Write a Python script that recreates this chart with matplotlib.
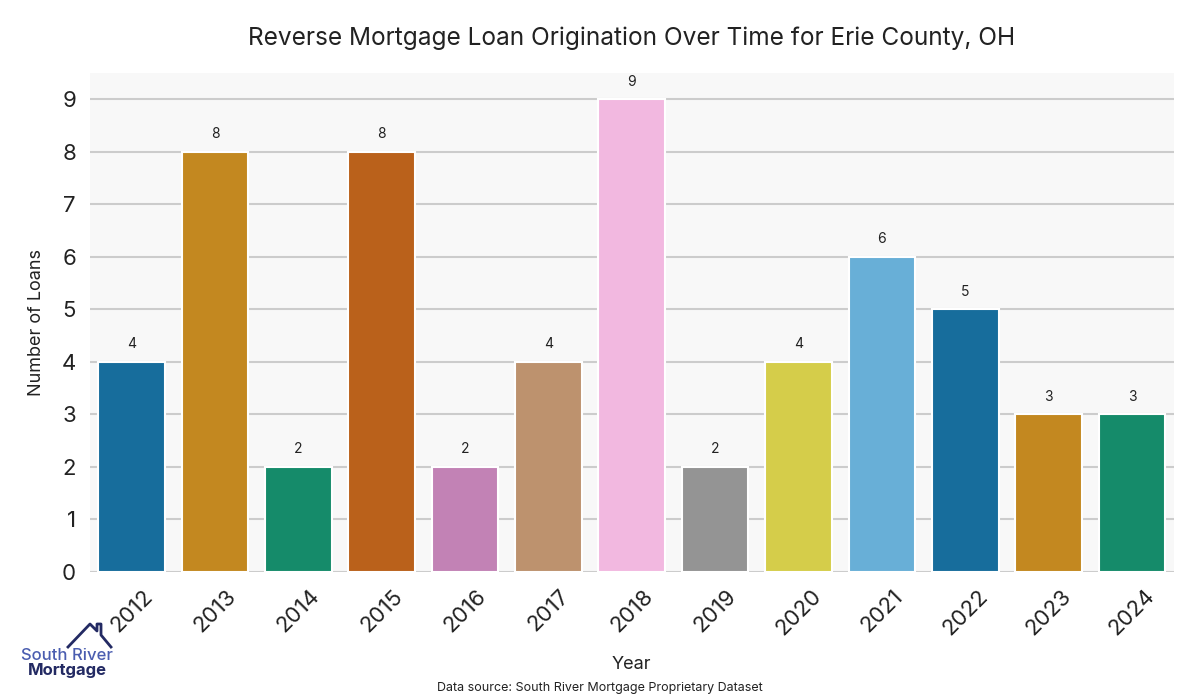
import matplotlib
matplotlib.use("Agg")
import matplotlib.pyplot as plt
import matplotlib.colors as mcolors
import colorsys
from matplotlib.lines import Line2D

years = ["2012", "2013", "2014", "2015", "2016", "2017", "2018",
         "2019", "2020", "2021", "2022", "2023", "2024"]
loans = [4, 8, 2, 8, 2, 4, 9, 2, 4, 6, 5, 3, 3]

palette = ["#0173b2", "#de8f05", "#029e73", "#d55e00", "#cc78bc", "#ca9161",
           "#fbafe4", "#949494", "#ece133", "#56b4e9"]


def desat(c, prop=0.75):
    r, g, b = mcolors.to_rgb(c)
    h, l, s = colorsys.rgb_to_hls(r, g, b)
    return colorsys.hls_to_rgb(h, l, s * prop)


colors = [desat(palette[i % len(palette)]) for i in range(len(years))]

plt.rcParams['font.family'] = ['Inter', 'DejaVu Sans']

fig = plt.figure(figsize=(12, 7), dpi=100)
ax = fig.add_axes([0.075, 0.183, 0.903, 0.713])
ax.set_facecolor("#f8f8f8")
for s in ax.spines.values():
    s.set_visible(False)

x = list(range(len(years)))
bars = ax.bar(x, loans, width=0.8, color=colors, edgecolor="white", linewidth=1.5, zorder=3)
for xi, v in zip(x, loans):
    ax.text(xi, v + 0.2, str(v), ha="center", va="bottom", fontsize=10, color="#222222")

ax.set_xlim(-0.5, len(years) - 0.5)
ax.set_ylim(0, 9.5)
ax.set_yticks(range(0, 10))
ax.grid(axis="y", color="#cccccc", linewidth=1.5, zorder=0)
ax.set_axisbelow(True)
ax.set_xticks(x)
ax.set_xticklabels(years, rotation=45, fontsize=16, color="#222222")
ax.tick_params(axis="y", labelsize=16, colors="#222222", length=0, pad=10)
ax.tick_params(axis="x", length=0, pad=10)
ax.set_ylabel("Number of Loans", fontsize=13, color="#222222", labelpad=12)
ax.set_xlabel("Year", fontsize=13, color="#222222", labelpad=12)
ax.set_title("Reverse Mortgage Loan Origination Over Time for Erie County, OH",
             fontsize=17.6, color="#222222", pad=20)

fig.text(0.5, 0.017, "Data source: South River Mortgage Proprietary Dataset",
         ha="center", va="center", fontsize=9, color="#222222")

# logo
fig.text(0.056, 1 - 655 / 700, "South River", ha="center", va="center", fontsize=12,
         color="#4a5db0", fontweight="medium")
fig.text(0.056, 1 - 670 / 700, "Mortgage", ha="center", va="center", fontsize=12,
         color="#232a63", fontweight="bold")
house = Line2D([v / 1200 for v in [68, 90, 97, 97, 101, 101, 111]],
               [1 - v / 700 for v in [647, 624, 631, 624, 624, 635, 647]],
               transform=fig.transFigure, color="#232a63", linewidth=2)
fig.add_artist(house)

fig.savefig("out.png", dpi=100)
